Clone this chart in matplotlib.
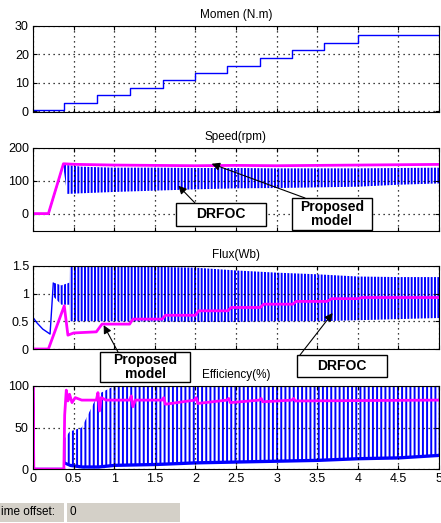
import matplotlib
matplotlib.use('Agg')
import matplotlib.pyplot as plt
from matplotlib.patches import Rectangle

plt.rcParams['font.family'] = ['Liberation Sans', 'DejaVu Sans']
plt.rcParams['hatch.linewidth'] = 1.4

# ---- torque (step load) ----
torque_t = [0, 0.385, 0.785, 1.19, 1.6, 1.99, 2.39, 2.79, 3.19, 3.58, 4.0, 5.0]
torque_v = [0.36, 2.7, 5.6, 8.0, 10.8, 13.6, 16.0, 18.8, 21.5, 24.1, 26.8, 26.8]

# ---- speed ----
speed_prop_t = [0, 0.19, 0.375, 0.45, 0.55, 1.0, 1.5, 2.0, 2.5, 3.0, 3.5, 4.0, 4.5, 5.0]
speed_prop_v = [0, 0, 152, 151, 150, 148, 147, 146, 147, 146, 147, 148, 149, 150]
speed_dr_t = [0, 0.19, 0.375]
speed_dr_v = [0, 0, 150]
speed_osc_t = [0.375, 0.42, 0.6, 1.0, 1.5, 2.0, 2.5, 3.0, 3.5, 4.0, 4.5, 5.0]
speed_osc_hi = [150, 148, 143, 140, 140, 139, 139, 138, 138, 138, 139, 140]
speed_osc_lo = [140, 60, 62, 66, 70, 74, 77, 78, 80, 82, 88, 92]

# ---- flux ----
flux_prop_t = [0, 0.19, 0.385, 0.43, 0.5, 0.78, 0.85, 1.19, 1.23, 1.59, 1.63, 2.0,
               2.04, 2.4, 2.44, 2.8, 2.84, 3.2, 3.24, 3.62, 3.68, 4.0, 4.05, 5.0]
flux_prop_v = [0, 0, 0.78, 0.25, 0.29, 0.31, 0.45, 0.45, 0.54, 0.54, 0.61, 0.61,
               0.69, 0.69, 0.75, 0.75, 0.81, 0.81, 0.86, 0.86, 0.91, 0.91, 0.93, 0.93]
flux_dr_t = [0, 0.05, 0.12, 0.21, 0.25]
flux_dr_v = [0.57, 0.47, 0.36, 0.27, 1.19]
flux_osc_t = [0.25, 0.35, 0.45, 0.455, 1.0, 2.0, 2.5, 3.0, 3.5, 4.0, 4.5, 5.0]
flux_osc_hi = [1.2, 1.15, 1.2, 1.5, 1.5, 1.47, 1.42, 1.38, 1.35, 1.31, 1.3, 1.3]
flux_osc_lo = [0.95, 0.8, 0.8, 0.5, 0.5, 0.49, 0.49, 0.5, 0.5, 0.52, 0.54, 0.56]

# ---- efficiency ----
eff_prop_t = [0, 0, 0.01, 0.38, 0.39, 0.41, 0.43, 0.45, 0.48, 0.52, 0.6, 0.78, 0.8, 0.82,
              0.84, 0.9, 1.19, 1.21, 1.23, 1.26, 1.59, 1.61, 1.63, 1.99, 2.01, 2.03,
              2.39, 2.41, 2.43, 2.79, 2.81, 2.83, 3.19, 3.21, 3.23, 5.0]
eff_prop_v = [0, 100, 0, 0, 65, 95, 82, 90, 80, 86, 83, 83, 92, 70, 86, 83, 83, 88,
              75, 83, 83, 86, 78, 83, 86, 79, 83, 85, 80, 83, 85, 81, 83, 85, 82, 83]
eff_dr_t = [0, 0.38]
eff_dr_v = [1, 1]
eff_base_t = [0.38, 0.45, 0.6, 0.8, 1.0, 1.5, 2.0, 2.5, 3.0, 3.5, 4.0, 4.5, 5.0]
eff_base_v = [7, 4, 2, 2, 4, 5, 7, 8, 9, 10, 12, 13, 16]
eff_peak_v = [35, 45, 50, 90, 100, 100, 100, 100, 100, 100, 100, 100, 100]

x_ticks = [0, 0.5, 1, 1.5, 2, 2.5, 3, 3.5, 4, 4.5, 5]
x_labels = ['0', '0.5', '1', '1.5', '2', '2.5', '3', '3.5', '4', '4.5', '5']

W, H = 441, 523
fig = plt.figure(figsize=(W / 100, H / 100), dpi=100)


def px_axes(top, bottom, left=33, right=439):
    return fig.add_axes([left / W, 1 - bottom / H, (right - left) / W, (bottom - top) / H])


def style(ax, title, ylim, yticks, ylabels, show_x=False):
    ax.set_xlim(0, 5)
    ax.set_ylim(*ylim)
    ax.set_xticks(x_ticks)
    ax.set_xticklabels(x_labels if show_x else [])
    ax.set_yticks(yticks)
    ax.set_yticklabels(ylabels)
    ax.tick_params(direction='in', length=3, top=True, right=True, labelsize=9, pad=3)
    ax.grid(True, linestyle=(0, (1, 3)), color='black', linewidth=0.9)
    for s in ax.spines.values():
        s.set_linewidth(0.8)
    ax.set_title(title, fontsize=8.5, pad=6)


def box(x0, y0, x1, y1, text):
    fig.patches.append(Rectangle((x0 / W, 1 - y1 / H), (x1 - x0) / W, (y1 - y0) / H,
                                 transform=fig.transFigure, facecolor='white',
                                 edgecolor='black', linewidth=1.0, zorder=10))
    fig.text((x0 + x1) / 2 / W, 1 - (y0 + y1) / 2 / H, text, ha='center', va='center',
             fontsize=10, fontweight='bold', linespacing=0.95, zorder=11)


def arrow(ax, start_px, tip):
    ax.annotate('', xy=tip, xycoords='data',
                xytext=(start_px[0] / W, 1 - start_px[1] / H), textcoords='figure fraction',
                arrowprops=dict(arrowstyle='-|>', color='black', lw=0.8,
                                mutation_scale=12, shrinkA=0, shrinkB=0),
                annotation_clip=False, zorder=9)


# panel 1
ax1 = px_axes(26, 112)
ax1.step(torque_t, torque_v, where='post', color='blue', lw=1)
style(ax1, 'Momen (N.m)', (-0.3, 30), [0, 10, 20, 30], ['0', '10', '20', '30'])

# panel 2
ax2 = px_axes(148, 231)
ax2.fill_between(speed_osc_t, speed_osc_lo, speed_osc_hi, facecolor='none',
                 edgecolor='blue', hatch='|||||', linewidth=0)
ax2.plot(speed_dr_t, speed_dr_v, color='blue', lw=1)
ax2.plot(speed_prop_t, speed_prop_v, color='magenta', lw=2)
style(ax2, 'Speed(rpm)', (-53, 200), [0, 100, 200], ['0', '100', '200'])

# panel 3
ax3 = px_axes(266, 349)
ax3.fill_between(flux_osc_t, flux_osc_lo, flux_osc_hi, facecolor='none',
                 edgecolor='blue', hatch='|||||', linewidth=0)
ax3.plot(flux_dr_t, flux_dr_v, color='blue', lw=1)
ax3.plot(flux_prop_t, flux_prop_v, color='magenta', lw=2)
style(ax3, 'Flux(Wb)', (0, 1.5), [0, 0.5, 1, 1.5], ['0', '0.5', '1', '1.5'])

# panel 4
ax4 = px_axes(386, 469)
ax4.fill_between(eff_base_t, eff_base_v, eff_peak_v, facecolor='none',
                 edgecolor='blue', hatch='||||', linewidth=0)
ax4.fill_between(eff_base_t, [v - 1 for v in eff_base_v], [v + 3 for v in eff_base_v],
                 color='blue', linewidth=0)
ax4.plot(eff_dr_t, eff_dr_v, color='blue', lw=1)
ax4.plot(eff_prop_t, eff_prop_v, color='magenta', lw=2)
style(ax4, 'Efficiency(%)', (0, 100), [0, 50, 100], ['0', '50', '100'], show_x=True)

# annotation boxes and arrows
arrow(ax2, (195, 203), (1.79, 85))
arrow(ax2, (305, 198), (2.2, 152))
box(176, 203, 266, 226, 'DRFOC')
box(292, 198, 372, 230, 'Proposed\nmodel')

arrow(ax3, (118, 352), (0.87, 0.43))
arrow(ax3, (300, 355), (3.69, 0.65))
box(100, 352, 190, 382, 'Proposed\nmodel')
box(297, 355, 387, 377, 'DRFOC')

# scope footer (left edge of the window cuts the label)
gray = '#d4d0c8'
fig.patches.append(Rectangle((0, 1 - 522 / H), 64 / W, 19 / H, transform=fig.transFigure,
                             facecolor=gray, edgecolor='none'))
fig.patches.append(Rectangle((67 / W, 1 - 522 / H), 113 / W, 19 / H, transform=fig.transFigure,
                             facecolor=gray, edgecolor='none'))
fig.text(1 / W, 1 - 512 / H, 'ime offset:', fontsize=8.5, va='center', ha='left')
fig.text(69 / W, 1 - 512 / H, '0', fontsize=8.5, va='center', ha='left')

fig.savefig('out.png', dpi=100)
